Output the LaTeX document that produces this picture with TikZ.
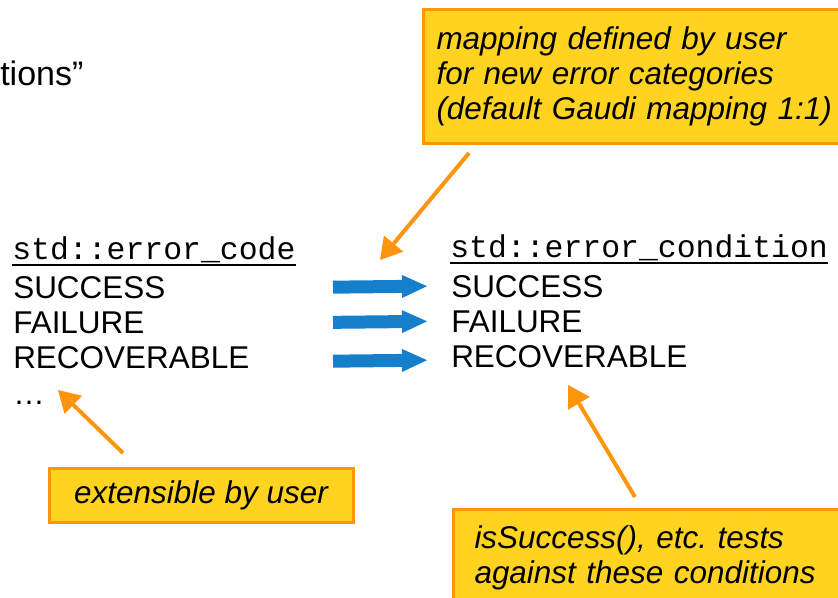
\documentclass[tikz,border=0pt]{standalone}
\usepackage{fontspec}
\setmainfont{Liberation Sans}
\setmonofont{Liberation Mono}
\usetikzlibrary{arrows.meta}
\frenchspacing

\definecolor{calloutfill}{RGB}{255,211,32}
\definecolor{calloutline}{RGB}{255,149,14}
\definecolor{mapblue}{RGB}{21,127,204}

\tikzset{
	entry/.style={anchor=base west, inner sep=0pt, font=\fontsize{23.6}{26.25}\selectfont},
	typename/.style={entry, font=\fontsize{23.6}{26.25}\selectfont\ttfamily},
	callout/.style={draw=calloutline, fill=calloutfill, line width=2.25pt, align=left,
		font=\fontsize{23.6}{26.25}\selectfont\itshape},
	calloutarrow/.style={draw=calloutline, line width=3pt,
		-{Triangle[length=16pt 0 0, width=19pt 0 0, line width=0pt]}},
	maparrow/.style={draw=mapblue, line width=9.75pt,
		-{Triangle[length=18.75pt 0 0, width=17.25pt 0 0, line width=0pt]}}
}

\begin{document}
\begin{tikzpicture}[x=0.75pt, y=-0.75pt]
		\useasboundingbox (0,0) rectangle (838,597);
		\clip (0,0) rectangle (838,597);

		  % Nodes
		\node[entry, font=\fontsize{25.5}{30}\selectfont] (title) at (0,85) {tions”};

		\node[typename] (codehead) at (12,259) {std::error\_code};
		\node[entry] (codesucc) at (13,298) {SUCCESS};
		\node[entry] (codefail) at (13,333) {FAILURE};
		\node[entry] (coderec) at (13,368) {RECOVERABLE};
		\node[entry] (codemore) at (13,404) {…};

		\node[typename] (condhead) at (450,257) {std::error\_condition};
		\node[entry] (condsucc) at (451,297) {SUCCESS};
		\node[entry] (condfail) at (451,332) {FAILURE};
		\node[entry] (condrec) at (451,367) {RECOVERABLE};

		\node[callout, anchor=north west, text width=300pt, inner xsep=9.75pt, minimum height=100.5pt]
			(mapnote) at (422,8) {mapping defined by user\\for new error categories\\(default Gaudi mapping 1:1)};
		\node[callout, minimum width=228pt, minimum height=40.5pt, inner sep=0pt]
			(extnote) at (201,495) {extensible by user};
		\node[callout, anchor=north west, text width=285pt, inner xsep=15.75pt, minimum height=72.75pt]
			(testnote) at (452,508) {isSuccess(), etc. tests\\against these conditions};

		\coordinate (mapL) at (333,0);
		\coordinate (mapR) at (427,0);
		\coordinate (mapfrom) at (469,153);
		\coordinate (maptip) at (380,260);
		\coordinate (extfrom) at (123,453);
		\coordinate (exttip) at (58,390);
		\coordinate (testfrom) at (635,497);
		\coordinate (testtip) at (568,385);

		  % Underlines
		  \draw[line width=1.5pt] ([yshift=-4.5pt]codehead.base west) -- ([yshift=-4.5pt]codehead.base east);
		  \draw[line width=1.5pt] ([yshift=-4.5pt]condhead.base west) -- ([yshift=-4.5pt]condhead.base east);

		  % Edges
		  \draw[maparrow] (codesucc.east -| mapL) -- (condsucc.west -| mapR);
		  \draw[maparrow] (codefail.east -| mapL) -- (condfail.west -| mapR);
		  \draw[maparrow] ([yshift=-3pt]coderec.east -| mapL) -- ([yshift=-3pt]condrec.west -| mapR);
		  \draw[calloutarrow] (mapfrom) -- (maptip);
		  \draw[calloutarrow] (extfrom) -- (exttip);
		  \draw[calloutarrow] (testfrom) -- (testtip);
\end{tikzpicture}
\end{document}
